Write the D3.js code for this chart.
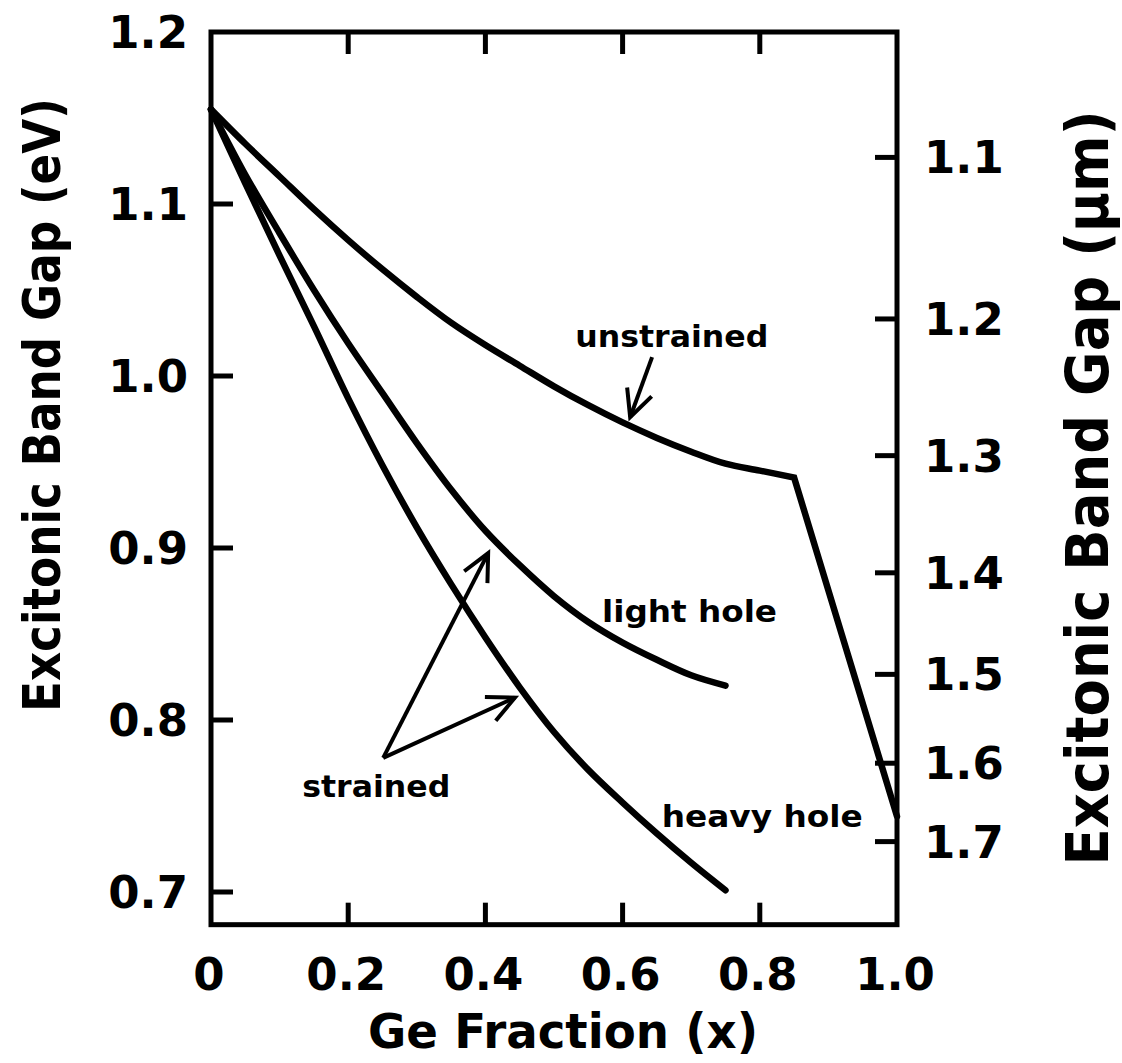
<!DOCTYPE html>
<html>
<head>
<meta charset="utf-8">
<script src="https://cdn.jsdelivr.net/npm/d3@7/dist/d3.min.js"></script>
<style>
  html, body { margin: 0; padding: 0; background: #fff; }
  svg { display: block; }
  text { font-family: "DejaVu Sans", sans-serif; font-weight: bold; fill: #000; }
</style>
</head>
<body>
<svg id="chart" width="1122" height="1063"></svg>
<script>
// ---------------- data ----------------
const xTicks = [0, 0.2, 0.4, 0.6, 0.8, 1.0];
const xTickLabels = ["0", "0.2", "0.4", "0.6", "0.8", "1.0"];
const yTicks = [0.7, 0.8, 0.9, 1.0, 1.1, 1.2];
const yTickLabels = ["0.7", "0.8", "0.9", "1.0", "1.1", "1.2"];
const umTicks = [1.1, 1.2, 1.3, 1.4, 1.5, 1.6, 1.7];
const umTickLabels = ["1.1", "1.2", "1.3", "1.4", "1.5", "1.6", "1.7"];
const hcOverE = 1.2398; // eV·µm

const unstrainedX = [0, 0.05, 0.1, 0.15, 0.2, 0.25, 0.3, 0.35, 0.4, 0.45, 0.5, 0.55, 0.6, 0.65, 0.7, 0.75, 0.8, 0.85, 1.0];
const unstrainedE = [1.155, 1.135, 1.116, 1.097, 1.079, 1.062, 1.046, 1.031, 1.018, 1.006, 0.994, 0.983, 0.973, 0.964, 0.956, 0.949, 0.945, 0.941, 0.744];

const lightX = [0, 0.05, 0.1, 0.15, 0.2, 0.25, 0.3, 0.35, 0.4, 0.45, 0.5, 0.55, 0.6, 0.65, 0.7, 0.75];
const lightE = [1.155, 1.117, 1.083, 1.050, 1.019, 0.990, 0.961, 0.934, 0.910, 0.890, 0.872, 0.857, 0.845, 0.835, 0.826, 0.820];

const heavyX = [0, 0.05, 0.1, 0.15, 0.2, 0.25, 0.3, 0.35, 0.4, 0.45, 0.5, 0.55, 0.6, 0.65, 0.7, 0.75];
const heavyE = [1.155, 1.112, 1.070, 1.029, 0.987, 0.948, 0.912, 0.879, 0.848, 0.819, 0.793, 0.771, 0.752, 0.734, 0.717, 0.701];

// annotations (data units)
const labelText = ["unstrained", "light hole", "heavy hole", "strained"];
const labelX = [0.531, 0.570, 0.657, 0.133];
const labelE = [1.017, 0.857, 0.738, 0.755];
const labelLen = [193, 175, 201, 148];

const arrowFromX = [0.643, 0.251, 0.251];
const arrowFromE = [1.011, 0.778, 0.778];
const arrowToX = [0.611, 0.404, 0.443];
const arrowToE = [0.976, 0.897, 0.813];

// ---------------- layout ----------------
const svg = d3.select("#chart");
const x = d3.scaleLinear().domain([0, 1]).range([211, 897]);
const y = d3.scaleLinear().domain([0.7, 1.2]).range([892, 32]);
const yBottom = 0.681;

const g = svg.append("g");

// frame
g.append("rect")
  .attr("x", x(0)).attr("y", y(1.2))
  .attr("width", x(1) - x(0)).attr("height", y(yBottom) - y(1.2))
  .attr("fill", "none").attr("stroke", "#000").attr("stroke-width", 5);

const tickLen = 22;
// bottom & top ticks (inward)
xTicks.forEach((t, i) => {
  if (t > 0 && t < 1) {
    g.append("line").attr("x1", x(t)).attr("x2", x(t))
      .attr("y1", y(yBottom)).attr("y2", y(yBottom) - tickLen)
      .attr("stroke", "#000").attr("stroke-width", 5);
    g.append("line").attr("x1", x(t)).attr("x2", x(t))
      .attr("y1", y(1.2)).attr("y2", y(1.2) + tickLen)
      .attr("stroke", "#000").attr("stroke-width", 5);
  }
  g.append("text").attr("x", x(t) - 2).attr("y", 990)
    .attr("text-anchor", "middle").attr("font-size", 45)
    .text(xTickLabels[i]);
});

// left ticks
yTicks.forEach((t, i) => {
  if (t < 1.2) {
    g.append("line").attr("x1", x(0)).attr("x2", x(0) + tickLen)
      .attr("y1", y(t)).attr("y2", y(t))
      .attr("stroke", "#000").attr("stroke-width", 5);
  }
  g.append("text").attr("x", 188).attr("y", y(t) + 16)
    .attr("text-anchor", "end").attr("font-size", 45)
    .text(yTickLabels[i]);
});

// right ticks (wavelength µm)
umTicks.forEach((t, i) => {
  const yy = y(hcOverE / t);
  g.append("line").attr("x1", x(1)).attr("x2", x(1) - tickLen)
    .attr("y1", yy).attr("y2", yy)
    .attr("stroke", "#000").attr("stroke-width", 5);
  g.append("text").attr("x", 924).attr("y", yy + 16)
    .attr("text-anchor", "start").attr("font-size", 45)
    .text(umTickLabels[i]);
});

// axis titles
g.append("text").attr("x", 563).attr("y", 1048)
  .attr("text-anchor", "middle").attr("font-size", 48)
  .attr("textLength", 390).attr("lengthAdjust", "spacingAndGlyphs")
  .text("Ge Fraction (x)");

g.append("text")
  .attr("transform", "translate(60,405) rotate(-90)")
  .attr("text-anchor", "middle").attr("font-size", 51)
  .attr("textLength", 614).attr("lengthAdjust", "spacingAndGlyphs")
  .text("Excitonic Band Gap (eV)");

g.append("text")
  .attr("transform", "translate(1108,488) rotate(-90)")
  .attr("text-anchor", "middle").attr("font-size", 58)
  .attr("textLength", 755).attr("lengthAdjust", "spacingAndGlyphs")
  .text("Excitonic Band Gap (\u00B5m)");

// curves
const smooth = d3.line().x(d => x(d[0])).y(d => y(d[1])).curve(d3.curveCatmullRom.alpha(0.5));
const lin = d3.line().x(d => x(d[0])).y(d => y(d[1]));

const unPts = unstrainedX.map((v, i) => [v, unstrainedE[i]]);
const kink = unPts.length - 1;
const unPath = smooth(unPts.slice(0, kink)) + "L" + x(unPts[kink][0]) + "," + y(unPts[kink][1]);
g.append("path").attr("d", unPath)
  .attr("fill", "none").attr("stroke", "#000").attr("stroke-width", 6.5)
  .attr("stroke-linejoin", "miter").attr("stroke-linecap", "round");

[[lightX, lightE], [heavyX, heavyE]].forEach(([xs, es]) => {
  g.append("path").attr("d", smooth(xs.map((v, i) => [v, es[i]])))
    .attr("fill", "none").attr("stroke", "#000").attr("stroke-width", 6.5)
    .attr("stroke-linecap", "round");
});

// annotation labels
labelText.forEach((t, i) => {
  g.append("text").attr("x", x(labelX[i])).attr("y", y(labelE[i]))
    .attr("font-size", 31)
    .attr("textLength", labelLen[i]).attr("lengthAdjust", "spacingAndGlyphs")
    .text(t);
});

// arrows
arrowFromX.forEach((fx, i) => {
  const x1 = x(fx), y1 = y(arrowFromE[i]);
  const x2 = x(arrowToX[i]), y2 = y(arrowToE[i]);
  g.append("line").attr("x1", x1).attr("y1", y1).attr("x2", x2).attr("y2", y2)
    .attr("stroke", "#000").attr("stroke-width", 4);
  const ang = Math.atan2(y2 - y1, x2 - x1);
  const L = 30, spread = 0.45;
  const p = [ang + Math.PI - spread, ang + Math.PI + spread].map(a => [x2 + L * Math.cos(a), y2 + L * Math.sin(a)]);
  g.append("path")
    .attr("d", lin([[x.invert(p[0][0]), y.invert(p[0][1])], [arrowToX[i], arrowToE[i]], [x.invert(p[1][0]), y.invert(p[1][1])]]))
    .attr("fill", "none").attr("stroke", "#000").attr("stroke-width", 4)
    .attr("stroke-linejoin", "miter");
});
</script>
</body>
</html>
